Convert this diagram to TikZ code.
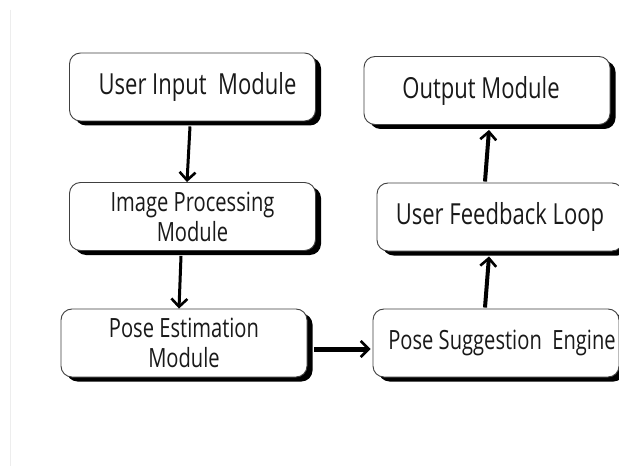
\documentclass[tikz,border=0pt]{standalone}
\usepackage{fontspec}
\setmainfont{Open Sans}[FakeStretch=0.76]
\usetikzlibrary{arrows.meta,shadows,calc}

\tikzset{
  module/.style={
    draw=black!75, line width=0.9pt, fill=white, rounded corners=11pt,
    minimum width=246pt, minimum height=68pt, inner sep=0pt,
    align=center, text=black!90, font=\fontsize{29}{31}\selectfont,
    drop shadow={shadow xshift=5.5pt, shadow yshift=-4.5pt, opacity=1, fill=black}
  },
  twoline/.style={font=\fontsize{26.5}{30}\selectfont},
  flow/.style={line width=3pt, black, -{Straight Barb[length=8pt,width=16pt,line width=2.6pt]}},
  thickflow/.style={flow, line width=4pt}
}

\begin{document}
\begin{tikzpicture}[x=1pt,y=-1pt]
  \useasboundingbox[fill=white] (0,0) rectangle (619,468);
  % faint scan edge on the left
  \draw[black!7, line width=1pt] (10,10) -- (10,466);

  % left column
  \node[module] (ui) at (192.5,87) {\hspace*{10pt}User Input\ \ Module};
  \node[module, twoline] (ip) at (192.5,216.5) {Image Processing\\Module};
  \node[module, twoline] (pe) at (184,343) {Pose Estimation\\Module};

  % right column
  \node[module] (om) at (487,90.5) {Output Module\hspace*{12pt}};
  \node[module] (uf) at (500,217) {User Feedback Loop};
  \node[module, twoline] (ps) at (496,343) {\hspace*{12pt}Pose Suggestion\ \ Engine};

  % connectors
  \draw[flow] ($(ui.south)+(-2.5,5)$) -- ($(ip.north)+(-5.5,0)$);
  \draw[flow] ($(ip.south)+(-11.5,5)$) -- ($(pe.north)+(-5,0)$);
  \draw[thickflow, line width=5pt] ($(pe.east)+(7,6)$) -- ($(ps.west)+(-2,6)$);
  \draw[thickflow] ($(ps.north)+(-11,-1)$) -- ($(uf.south)+(-11,5)$);
  \draw[thickflow] ($(uf.north)+(-15,-1)$) -- ($(om.south)+(2,5)$);
\end{tikzpicture}
\end{document}
